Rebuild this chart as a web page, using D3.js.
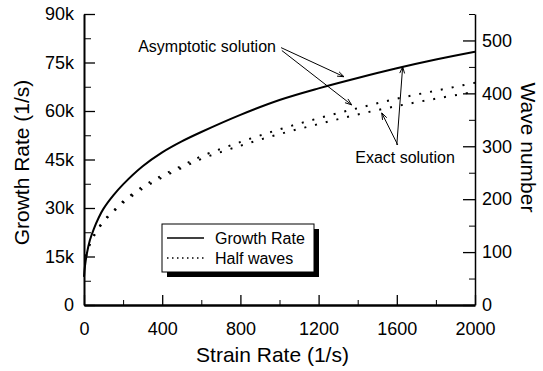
<!DOCTYPE html>
<html>
<head>
<meta charset="utf-8">
<script src="https://cdn.jsdelivr.net/npm/d3@7"></script>
<style>
  body { margin: 0; background: #fff; }
  svg text { font-family: "Liberation Sans", Arial, Helvetica, sans-serif; fill: #000; }
  .axis path, .axis line { stroke: #000; }
</style>
</head>
<body>
<div id="chart"></div>
<script>
// Growth rate / half waves vs strain rate

// data
let strainRate = [0, 5, 15, 30, 50, 75, 100, 150, 200, 300, 400, 500, 600, 800, 1000, 1200, 1400, 1600, 1800, 2000];
let growthRate = [8700, 12000, 16000, 20000, 23500, 27000, 29800, 33900, 37300, 42900, 47200, 50600, 53500, 58800, 63400, 67000, 70200, 73200, 75900, 78300];

let waveStrain = [10, 20, 30, 50, 100, 150, 200, 300, 400, 500, 600, 800, 1000, 1200, 1400, 1600, 1800, 2000];
let halfWavesAsym = [92, 104, 115, 131, 159, 178, 196, 224, 245, 263, 281, 308, 332, 353, 372, 390, 405, 420];
let halfWavesExact = [92, 104, 115, 130, 157, 176, 193, 220, 241, 259, 276, 301, 323, 342, 360, 376, 390, 403];

let xTicks = [0, 400, 800, 1200, 1600, 2000];
let xMinorTicks = [200, 600, 1000, 1400, 1800];
let leftTicks = [0, 15000, 30000, 45000, 60000, 75000, 90000];
let leftMinorTicks = [7500, 22500, 37500, 52500, 67500, 82500];
let rightTicks = [0, 100, 200, 300, 400, 500];
let rightMinorTicks = [50, 150, 250, 350, 450, 550];

// annotation anchors (strain rate, growth rate)
let asymText = [982, 78300];
let asymArrows = [[[1008, 79600], [1330, 70600]], [[1012, 78700], [1369, 61900]]];
let exactText = [1642, 43900];
let exactArrows = [[[1600, 49500], [1630, 73700]], [[1605, 49500], [1523, 59400]]];

let width = 543, height = 371;
let margin = {top: 14, right: 68, bottom: 66, left: 84};

let svg = d3.select("#chart").append("svg")
    .attr("width", width)
    .attr("height", height);

// Scales
let x = d3.scaleLinear().domain([0, 2000]).range([margin.left, width - margin.right]);
let yL = d3.scaleLinear().domain([0, 90000]).range([height - margin.bottom, margin.top]);
let yR = d3.scaleLinear().domain([0, 550]).range([height - margin.bottom, margin.top]);

let kFormat = d => d === 0 ? "0" : (d / 1000) + "k";

// Bottom axis
svg.append("g")
    .attr("class", "axis")
    .attr("transform", `translate(0, ${yL(0)})`)
    .call(d3.axisBottom(x).tickValues(xMinorTicks).tickFormat("").tickSize(-5).tickSizeOuter(0))
    .call(g => g.select(".domain").remove());

let xAxis = svg.append("g")
    .attr("class", "axis")
    .attr("transform", `translate(0, ${yL(0)})`)
    .call(d3.axisBottom(x).tickValues(xTicks).tickSize(-10).tickSizeOuter(0).tickPadding(17).tickFormat(d3.format("d")));
xAxis.select(".domain").attr("stroke-width", 2.5);
xAxis.selectAll("line").attr("stroke-width", 1.3);

// Left axis
svg.append("g")
    .attr("class", "axis")
    .attr("transform", `translate(${x(0)}, 0)`)
    .call(d3.axisLeft(yL).tickValues(leftMinorTicks).tickFormat("").tickSize(-7).tickSizeOuter(0))
    .call(g => g.select(".domain").remove());

let yAxisL = svg.append("g")
    .attr("class", "axis")
    .attr("transform", `translate(${x(0)}, 0)`)
    .call(d3.axisLeft(yL).tickValues(leftTicks).tickSize(-11).tickSizeOuter(0).tickPadding(10).tickFormat(kFormat));
yAxisL.select(".domain").attr("stroke-width", 2);
yAxisL.selectAll("line").attr("stroke-width", 1.3);

// Right axis
svg.append("g")
    .attr("class", "axis")
    .attr("transform", `translate(${x(2000)}, 0)`)
    .call(d3.axisRight(yR).tickValues(rightMinorTicks).tickFormat("").tickSize(-6).tickSizeOuter(0))
    .call(g => g.select(".domain").remove());

let yAxisR = svg.append("g")
    .attr("class", "axis")
    .attr("transform", `translate(${x(2000)}, 0)`)
    .call(d3.axisRight(yR).tickValues(rightTicks).tickSize(-12).tickSizeOuter(0).tickPadding(7));
yAxisR.select(".domain").attr("stroke-width", 1.5);
yAxisR.selectAll("line").attr("stroke-width", 1.3);

svg.selectAll(".axis text").attr("font-size", 18).style("font-family", "'Liberation Sans', Arial, sans-serif");

// Axis titles
svg.append("text")
    .attr("x", x(1000) - 7)
    .attr("y", 362)
    .attr("text-anchor", "middle")
    .attr("font-size", 21)
    .text("Strain Rate (1/s)");

svg.append("text")
    .attr("transform", `translate(29, ${(yL(0) + yL(90000)) / 2 + 3}) rotate(-90)`)
    .attr("text-anchor", "middle")
    .attr("font-size", 21)
    .text("Growth Rate (1/s)");

svg.append("text")
    .attr("transform", `translate(521, ${(yL(0) + yL(90000)) / 2 - 12}) rotate(90)`)
    .attr("text-anchor", "middle")
    .attr("font-size", 21)
    .text("Wave number");

// Lines
let growthLine = d3.line()
    .x((d, i) => x(strainRate[i]))
    .y(d => yL(d))
    .curve(d3.curveCatmullRom.alpha(0.5));

let waveLine = d3.line()
    .x((d, i) => x(waveStrain[i]))
    .y(d => yR(d))
    .curve(d3.curveCatmullRom.alpha(0.5));

svg.append("path")
    .datum(growthRate)
    .attr("d", growthLine)
    .attr("fill", "none")
    .attr("stroke", "#000")
    .attr("stroke-width", 2);

[halfWavesAsym, halfWavesExact].forEach(series => {
    svg.append("path")
        .datum(series)
        .attr("d", waveLine)
        .attr("fill", "none")
        .attr("stroke", "#000")
        .attr("stroke-width", 2)
        .attr("stroke-dasharray", "2,9");
});

// Arrows
let arrowHead = (p0, p1) => {
    let a = Math.atan2(p1[1] - p0[1], p1[0] - p0[0]);
    let l = 7, w = 0.35;
    return `M${p1[0] - l * Math.cos(a - w)},${p1[1] - l * Math.sin(a - w)}L${p1[0]},${p1[1]}L${p1[0] - l * Math.cos(a + w)},${p1[1] - l * Math.sin(a + w)}`;
};

asymArrows.concat(exactArrows).forEach(d => {
    let p0 = [x(d[0][0]), yL(d[0][1])];
    let p1 = [x(d[1][0]), yL(d[1][1])];
    svg.append("line")
        .attr("x1", p0[0]).attr("y1", p0[1])
        .attr("x2", p1[0]).attr("y2", p1[1])
        .attr("stroke", "#000")
        .attr("stroke-width", 1);
    svg.append("path")
        .attr("d", arrowHead(p0, p1))
        .attr("fill", "none")
        .attr("stroke", "#000")
        .attr("stroke-width", 1);
});

svg.append("text")
    .attr("x", x(asymText[0]))
    .attr("y", yL(asymText[1]))
    .attr("text-anchor", "end")
    .attr("font-size", 16)
    .text("Asymptotic solution");

svg.append("text")
    .attr("x", x(exactText[0]))
    .attr("y", yL(exactText[1]))
    .attr("text-anchor", "middle")
    .attr("font-size", 16)
    .text("Exact solution");

// Legend
let legend = svg.append("g").attr("transform", "translate(162, 224)");
legend.append("rect")
    .attr("x", 5).attr("y", 5)
    .attr("width", 152).attr("height", 48)
    .attr("fill", "#000");
legend.append("rect")
    .attr("width", 152).attr("height", 48)
    .attr("fill", "#fff")
    .attr("stroke", "#000")
    .attr("stroke-width", 1);

legend.append("line")
    .attr("x1", 5).attr("x2", 42)
    .attr("y1", 14).attr("y2", 14)
    .attr("stroke", "#000").attr("stroke-width", 1.5);
legend.append("line")
    .attr("x1", 5).attr("x2", 42)
    .attr("y1", 34).attr("y2", 34)
    .attr("stroke", "#000").attr("stroke-width", 1.5)
    .attr("stroke-dasharray", "1.5,3.5");

legend.append("text")
    .attr("x", 53).attr("y", 14)
    .attr("dy", "0.35em")
    .attr("font-size", 16)
    .text("Growth Rate");
legend.append("text")
    .attr("x", 53).attr("y", 34)
    .attr("dy", "0.35em")
    .attr("font-size", 16)
    .text("Half waves");
</script>
</body>
</html>
